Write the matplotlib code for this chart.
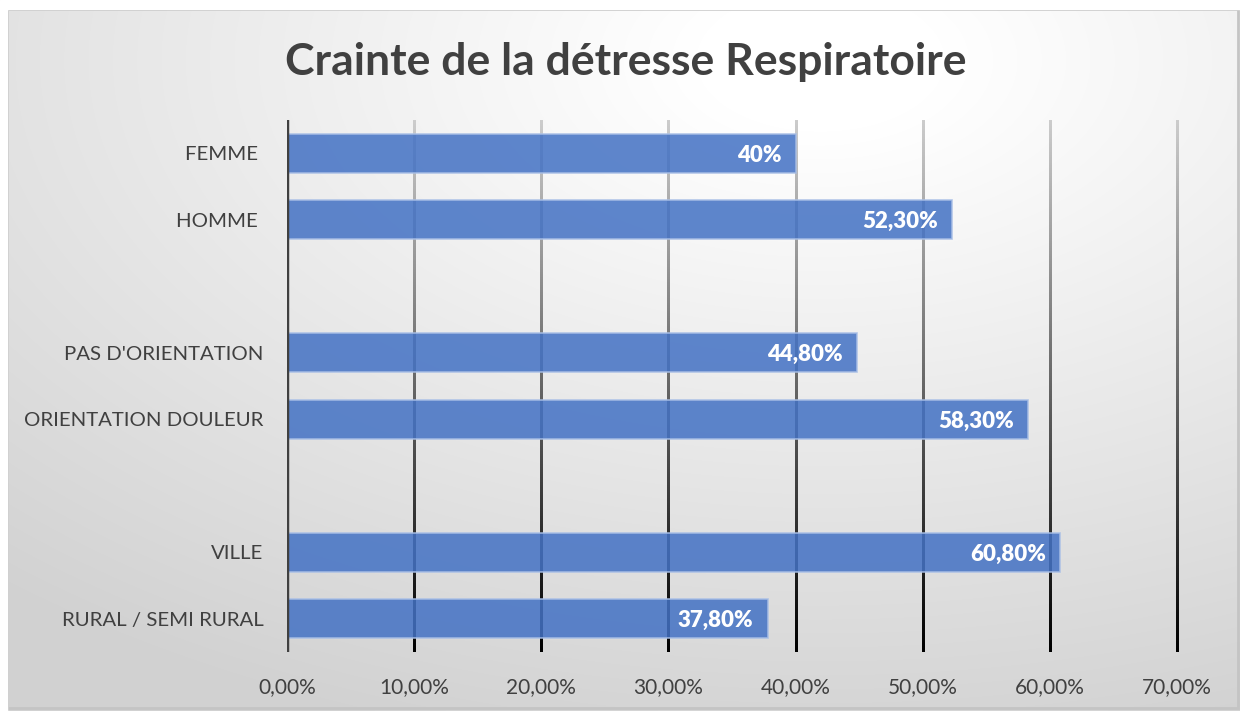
import numpy as np
import matplotlib
matplotlib.use("Agg")
import matplotlib.pyplot as plt
from matplotlib.patches import Rectangle

plt.rcParams['font.family'] = ['Lato', 'DejaVu Sans']

categories = ["FEMME ", "HOMME ", "", "PAS D'ORIENTATION", "ORIENTATION DOULEUR", "", "VILLE", "RURAL / SEMI RURAL"]
values = [40.0, 52.3, None, 44.8, 58.3, None, 60.8, 37.8]
value_labels = ["40%", "52,30%", "", "44,80%", "58,30%", "", "60,80%", "37,80%"]
xticks = [0, 10, 20, 30, 40, 50, 60, 70]
xtick_labels = ["0,00%", "10,00%", "20,00%", "30,00%", "40,00%", "50,00%", "60,00%", "70,00%"]
title = "Crainte de la détresse Respiratoire"

W, H = 1240, 711
fig = plt.figure(figsize=(W / 100, H / 100), dpi=100)

# background radial gradient
bg = fig.add_axes([0, 0, 1, 1])
bg.set_axis_off()
yy, xx = np.mgrid[0:H, 0:W]
cx, cy = 820, 60
d = np.sqrt(((xx - cx) / W) ** 2 + ((yy - cy) / H) ** 2)
val = np.clip(1.0 - 0.2 * d, 0.80, 1.0)
val = np.clip(val + 0.02, 0, 1)
bg.imshow(np.dstack([val, val, val]), extent=[0, W, H, 0], aspect='auto', zorder=0)
bg.set_xlim(0, W)
bg.set_ylim(H, 0)
bg.add_patch(Rectangle((7, 9), W - 9, H - 12, fill=False, edgecolor='#c4c4c4', linewidth=2.0))
bg.add_patch(Rectangle((0, 0), 7, H, color='white', zorder=1))
bg.add_patch(Rectangle((0, 0), W, 9, color='white', zorder=1))

left, right, top, bottom = 287, 1177, 120, 652
ax = fig.add_axes([left / W, 1 - bottom / H, (right - left) / W, (bottom - top) / H])
ax.patch.set_alpha(0)
for s in ax.spines.values():
    s.set_visible(False)

n = len(categories)
ypos = np.arange(n)

# gradient gridlines as thin gradient images
grad = np.linspace(0, 1, 256).reshape(-1, 1)
c_top = np.array([0.80, 0.80, 0.80])
c_bot = np.array([0.0, 0.0, 0.0])
gimg = (c_top[None, None, :] * (1 - grad[..., None]) + c_bot[None, None, :] * grad[..., None])
hw = 0.08
for xt in xticks[1:]:
    ax.imshow(gimg, extent=[xt - hw, xt + hw, n - 0.5, -0.5], aspect='auto',
              interpolation='bilinear', zorder=1, clip_on=False)
ax.axvline(0, color='#404040', linewidth=3.2, zorder=4)

ax.set_ylim(n - 0.5, -0.5)
ax.set_xlim(0, 70)

vals = [v if v is not None else 0 for v in values]
ax.barh(ypos, vals, height=0.58, color='#4472C4', alpha=0.86,
        edgecolor='#a9bfe6', linewidth=1.2, zorder=3)
for i, (v, lab) in enumerate(zip(values, value_labels)):
    if v is None:
        continue
    ax.text(v - 1.1, i + 0.03, lab, ha='right', va='center', color='white',
            fontsize=16, fontweight='heavy', zorder=5)

ax.set_yticks(ypos)
ax.set_yticklabels(categories, fontsize=14.7, color='#404040')
ax.set_xticks(xticks)
ax.set_xticklabels(xtick_labels, fontsize=15, color='#404040')
ax.tick_params(axis='y', length=0, pad=17)
ax.tick_params(axis='x', length=0, pad=18)

fig.text(626 / W, 1 - 62 / H, title, ha='center', va='center', fontsize=32,
         fontweight='bold', color='#404040')

fig.savefig("out.png", dpi=100)
